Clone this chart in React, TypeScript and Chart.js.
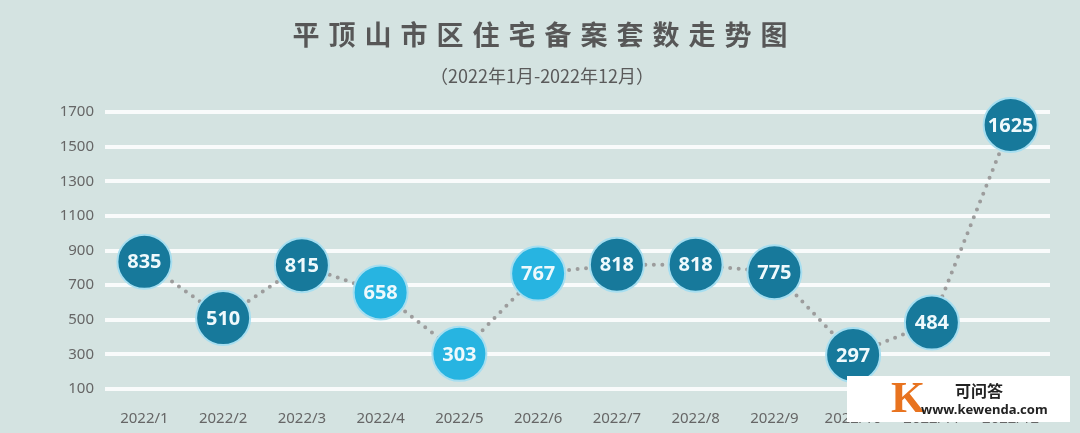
import React, { useEffect, useRef } from "react";
import { Chart, registerables } from "chart.js";

Chart.register(...registerables);

const TITLE = "平顶山市区住宅备案套数走势图";
const SUBTITLE = "（2022年1月-2022年12月）";
const categories = ["2022/1", "2022/2", "2022/3", "2022/4", "2022/5", "2022/6", "2022/7", "2022/8", "2022/9", "2022/10", "2022/11", "2022/12"];
const values = [835, 510, 815, 658, 303, 767, 818, 818, 775, 297, 484, 1625];
const highlight = [false, false, false, true, true, true, false, false, false, false, false, false];
const yTicks = [100, 300, 500, 700, 900, 1100, 1300, 1500, 1700];

const BG = "#d4e3e1";
const DARK = "#17799b";
const LIGHT = "#27b4e1";

const bgPlugin = {
  id: "bgPlugin",
  beforeDraw(chart: any) {
    const ctx = chart.ctx;
    ctx.save();
    ctx.fillStyle = BG;
    ctx.fillRect(0, 0, chart.width, chart.height);
    ctx.restore();
  },
};

const titlePlugin = {
  id: "titlePlugin",
  afterDraw(chart: any) {
    const ctx = chart.ctx;
    ctx.save();
    ctx.textAlign = "center";
    ctx.textBaseline = "middle";
    ctx.fillStyle = "#575757";
    ctx.font = "bold 27px 'Noto Sans CJK SC'";
    (ctx as any).letterSpacing = "9px";
    ctx.fillText(TITLE, 540 + 4.5, 35);
    (ctx as any).letterSpacing = "0px";
    ctx.font = "18px 'Noto Sans CJK SC'";
    ctx.fillStyle = "#5a5a5a";
    ctx.fillText(SUBTITLE, 542, 76);
    ctx.restore();
  },
};

const labelPlugin = {
  id: "labelPlugin",
  afterDatasetsDraw(chart: any) {
    const ctx = chart.ctx;
    const meta = chart.getDatasetMeta(0);
    ctx.save();
    ctx.textAlign = "center";
    ctx.textBaseline = "middle";
    ctx.fillStyle = "#eef9fc";
    ctx.font = "bold 20px 'Open Sans'";
    meta.data.forEach((pt: any, i: number) => {
      ctx.fillText(String(values[i]), pt.x, pt.y + 1);
    });
    ctx.restore();
  },
};

export default function App() {
  const ref = useRef<HTMLCanvasElement>(null);
  useEffect(() => {
    if (!ref.current) return;
    const chart = new Chart(ref.current, {
      type: "line",
      data: {
        labels: categories,
        datasets: [
          {
            data: values,
            borderColor: "#9c9c9c",
            borderWidth: 4,
            borderDash: [0, 8.5],
            borderCapStyle: "round",
            pointRadius: 27,
            pointHoverRadius: 27,
            pointBorderWidth: 2,
            pointBorderColor: "#a6def0",
            pointBackgroundColor: highlight.map((h) => (h ? LIGHT : DARK)),
            tension: 0,
            clip: false,
          },
        ],
      },
      options: {
        animation: false,
        responsive: false,
        events: [],
        layout: { padding: { left: 0, right: 30, top: 112, bottom: 0 } },
        plugins: { legend: { display: false }, tooltip: { enabled: false } },
        scales: {
          x: {
            offset: true,
            grid: { display: false },
            border: { display: false },
            ticks: { color: "#666", font: { family: "'Noto Sans'", size: 15 }, padding: 13 },
            afterFit: (s: any) => {
              s.height = 44;
            },
          },
          y: {
            min: 100,
            max: 1700,
            afterBuildTicks: (s: any) => {
              s.ticks = yTicks.map((v) => ({ value: v }));
            },
            grid: { color: "rgba(255,255,255,0.85)", lineWidth: 4, drawTicks: false },
            border: { display: false },
            ticks: {
              color: "#666",
              font: { family: "'Noto Sans'", size: 15 },
              padding: 11,
              callback: (v: any) => String(v),
            },
            afterFit: (s: any) => {
              s.width = 105;
            },
          },
        },
      },
      plugins: [bgPlugin, titlePlugin, labelPlugin],
    });
    return () => chart.destroy();
  }, []);
  return (
    <div style={{ position: "fixed", left: 0, top: 0, width: 1080, height: 433, background: BG }}>
      <canvas ref={ref} width={1080} height={433} style={{ display: "block" }} />
      <div
        style={{
          position: "absolute",
          left: 847,
          top: 376,
          width: 223,
          height: 46,
          background: "#fff",
          fontFamily: "'Noto Sans CJK SC'",
        }}
      >
        <div style={{ position: "absolute", left: 44, top: -4, fontSize: 44, fontWeight: 700, color: "#e8731f", fontFamily: "'Liberation Serif'" }}>K</div>
        <div style={{ position: "absolute", left: 108, top: 5, fontSize: 16, fontWeight: 700, color: "#222", lineHeight: "18px" }}>可问答</div>
        <div style={{ position: "absolute", left: 74, top: 25, fontSize: 13, fontWeight: 700, color: "#222", lineHeight: "16px", fontFamily: "'Noto Sans'" }}>www.kewenda.com</div>
      </div>
    </div>
  );
}
